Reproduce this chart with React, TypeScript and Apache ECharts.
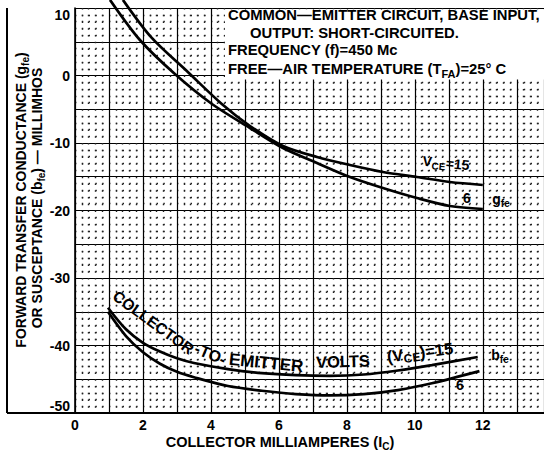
import React, { useEffect, useRef } from "react";
import * as echarts from "echarts";

// Collector milliamperes (Ic) and millimhos
const gfeIc15 = [1.41, 2.26, 3.32, 4.32, 5.15, 6.12, 7.12, 8.09, 9.06, 10.06, 11.03, 12.0];
const gfeVal15 = [11.2, 5.56, 0.52, -4.22, -7.48, -10.44, -12.07, -13.26, -14.3, -15.04, -15.78, -16.22];
const gfeIc6 = [1.03, 1.91, 2.94, 4.03, 5.15, 6.12, 7.12, 8.09, 9.06, 10.06, 11.03, 12.0];
const gfeVal6 = [11.2, 5.26, 0.22, -4.22, -7.78, -10.74, -12.96, -15.04, -16.67, -18.15, -19.33, -19.78];
const bfeIc15 = [0.97, 1.5, 2.0, 2.5, 3.0, 3.5, 4.5, 5.5, 6.5, 7.5, 8.5, 9.5, 10.5, 11.85];
const bfeVal15 = [-34.4, -37.6, -39.6, -40.9, -41.9, -42.6, -43.5, -44.1, -44.4, -44.5, -44.3, -43.7, -42.9, -41.7];
const bfeIc6 = [0.97, 1.5, 2.0, 2.5, 3.0, 3.5, 4.5, 5.5, 6.5, 7.5, 8.5, 9.5, 10.5, 11.9];
const bfeVal6 = [-35.0, -38.6, -41.0, -42.7, -43.9, -44.7, -46.0, -46.7, -47.2, -47.4, -47.2, -46.6, -45.6, -43.8];
const xTickLabels = [0, 2, 4, 6, 8, 10, 12];
const yTickLabels = [10, 0, -10, -20, -30, -40, -50];

const FONT = '"Liberation Sans", Arial, sans-serif';

function rich(size: number) {
  const s = Math.round(size * 0.72);
  return {
    a: { fontSize: size, fontFamily: FONT, fontWeight: "bold", fill: "#000", lineHeight: size + 2, verticalAlign: "top" },
    s: { fontSize: s, fontFamily: FONT, fontWeight: "bold", fill: "#000", lineHeight: s + 2, verticalAlign: "top", padding: [Math.round(size * 0.45), 0, 0, 0] },
  };
}

function txt(x: number, y: number, text: string, size = 14, rot = 0, align = "center") {
  return {
    type: "text",
    x,
    y,
    rotation: rot,
    z: 20,
    silent: true,
    style: {
      text,
      rich: rich(size),
      align,
      textAlign: align,
      verticalAlign: "middle",
      textVerticalAlign: "middle",
      fill: "#000",
      fontFamily: FONT,
      fontWeight: "bold",
      fontSize: size,
    },
  };
}

export default function App() {
  const ref = useRef<HTMLDivElement>(null);
  useEffect(() => {
    if (!ref.current) return;
    const chart = echarts.init(ref.current, null, { renderer: "svg" });
    const pair = (xs: number[], ys: number[]) => xs.map((x, i) => [x, ys[i]]);
    const line = (name: string, xs: number[], ys: number[]) => ({
      type: "line",
      name,
      data: pair(xs, ys),
      smooth: 0.3,
      symbol: "none",
      showSymbol: false,
      clip: false,
      silent: true,
      z: 5,
      lineStyle: { color: "#000", width: 2.7 },
    });
    chart.setOption({
      animation: false,
      backgroundColor: "#fff",
      grid: { left: 75, right: 0, top: 8, bottom: 39 },
      xAxis: {
        type: "value",
        min: 0,
        max: 13.8,
        interval: 1,
        axisLine: { show: true, onZero: false, lineStyle: { color: "#000", width: 2 } },
        axisTick: { show: false },
        axisLabel: {
          formatter: (v: number) => (xTickLabels.includes(v) ? String(v) : ""),
          color: "#000",
          fontFamily: FONT,
          fontSize: 14,
          fontWeight: "bold",
          margin: 5,
          showMaxLabel: false,
        },
        splitLine: { show: true, lineStyle: { color: "#000", width: 1.2 } },
        minorTick: { show: false, splitNumber: 5 },
        minorSplitLine: { show: true, lineStyle: { color: "#222", width: 1.4, type: [1.4, 5.35] } },
      },
      yAxis: {
        type: "value",
        min: -50,
        max: 10,
        interval: 5,
        axisLine: { show: true, onZero: false, lineStyle: { color: "#000", width: 1.6 } },
        axisTick: { show: false },
        axisLabel: {
          formatter: (v: number) => (yTickLabels.includes(v) ? String(v) : ""),
          color: "#000",
          fontFamily: FONT,
          fontSize: 14,
          fontWeight: "bold",
          margin: 5,
          verticalAlignMaxLabel: "top",
          verticalAlignMinLabel: "bottom",
        },
        splitLine: { show: true, lineStyle: { color: "#000", width: 1.2 } },
        minorTick: { show: false, splitNumber: 5 },
        minorSplitLine: { show: true, lineStyle: { color: "#222", width: 1.4, type: [1.4, 5.4] } },
      },
      series: [
        line("gfe VCE=15", gfeIc15, gfeVal15),
        line("gfe VCE=6", gfeIc6, gfeVal6),
        line("bfe VCE=15", bfeIc15, bfeVal15),
        line("bfe VCE=6", bfeIc6, bfeVal6),
      ],
      graphic: [
        { type: "line", silent: true, z: 20, shape: { x1: 7, y1: 8, x2: 7, y2: 413 }, style: { stroke: "#000", lineWidth: 2 } },
        { type: "line", silent: true, z: 20, shape: { x1: 7, y1: 413, x2: 75, y2: 413 }, style: { stroke: "#000", lineWidth: 2 } },
        { type: "rect", silent: true, z: 1, shape: { x: 225, y: 9.5, width: 319, height: 70 }, style: { fill: "#fff" } },
        txt(228, 16, "{a|COMMON—EMITTER CIRCUIT, BASE INPUT,}", 14.8, 0, "left"),
        txt(250, 33.5, "{a|OUTPUT: SHORT-CIRCUITED.}", 14.8, 0, "left"),
        txt(228, 51, "{a|FREQUENCY (f)=450 Mc}", 14.8, 0, "left"),
        txt(228, 70, "{a|FREE—AIR TEMPERATURE (T}{s|FA}{a|)=25° C}", 14.8, 0, "left"),
        txt(22, 200, "{a|FORWARD TRANSFER CONDUCTANCE (g}{s|fe}{a|)}", 14, Math.PI / 2),
        txt(38, 198, "{a|OR SUSCEPTANCE (b}{s|fe}{a|) — MILLIMHOS}", 14, Math.PI / 2),
        txt(280, 443, "{a|COLLECTOR MILLIAMPERES (I}{s|C}{a|)}", 14.5),
        txt(446, 164, "{a|V}{s|CE}{a|=15}", 14, -0.09),
        txt(467, 199, "{a|6}", 14),
        txt(501, 200, "{a|g}{s|fe}", 14),
        txt(500, 356, "{a|b}{s|fe}", 14),
        txt(460, 386, "{a|6}", 14),
        txt(153, 323, "{a|COLLECTOR}", 15.5, -0.63),
        txt(210, 355, "{a|-TO-}", 16, -0.4),
        txt(266, 364, "{a|EMITTER}", 17, -0.1),
        txt(343, 362, "{a|VOLTS}", 16.5, 0.03),
        txt(420, 353, "{a|(V}{s|CE}{a|)=15}", 16.5, 0.13),
      ],
    });
    return () => chart.dispose();
  }, []);
  return (
    <div
      ref={ref}
      style={{ position: "absolute", left: 0, top: 0, width: 544, height: 452, background: "#fff" }}
    />
  );
}
